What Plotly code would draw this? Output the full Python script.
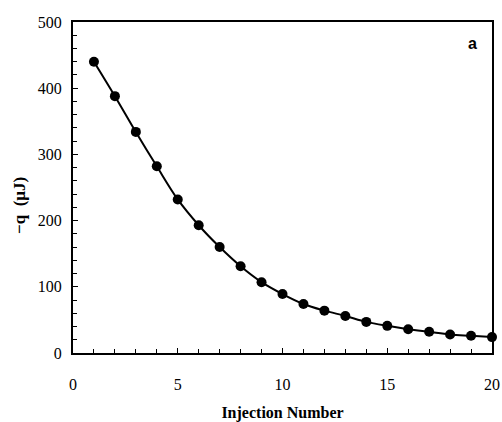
import plotly.graph_objects as go

injection = list(range(1, 21))
neg_q = [440, 388, 334, 282, 232, 193, 160, 131, 107, 89, 74, 64, 56, 47, 41, 36, 32, 28, 26, 24]
x_ticks = [0, 5, 10, 15, 20]
y_ticks = [0, 100, 200, 300, 400, 500]

fig = go.Figure()
fig.add_trace(go.Scatter(
    x=injection, y=neg_q, mode="lines+markers",
    line=dict(color="black", width=2, shape="spline"),
    marker=dict(color="black", size=10),
    cliponaxis=False, showlegend=False,
))

fig.update_layout(
    width=502, height=422,
    margin=dict(l=73, r=10, t=22, b=69),
    paper_bgcolor="white", plot_bgcolor="white",
    font=dict(family="Liberation Serif", color="black"),
    annotations=[
        dict(text="<b>a</b>", x=0.97, y=0.935, xref="paper", yref="paper",
             showarrow=False, xanchor="right", yanchor="middle",
             font=dict(family="Liberation Sans", size=16, color="black")),
        dict(text="<b>\u2212q  (\u00b5J)</b>", x=-0.129, y=0.447, xref="paper", yref="paper",
             showarrow=False, xanchor="center", yanchor="middle", textangle=-90,
             font=dict(family="Liberation Serif", size=17, color="black")),
    ],
)
fig.update_xaxes(
    range=[0, 20], tickvals=x_ticks, ticks="inside", ticklen=5, tickwidth=1,
    tickcolor="black", showline=True, linecolor="black", linewidth=2, mirror=True,
    showgrid=False, zeroline=False, ticklabelstandoff=16, automargin=False,
    tickfont=dict(size=16, family="Liberation Serif"),
    minor=dict(dtick=1, ticks="inside", ticklen=4, tickcolor="black", showgrid=False),
    title=dict(text="<b>Injection Number</b>", font=dict(size=16, family="Liberation Serif"), standoff=18),
)
fig.update_yaxes(
    range=[0, 500], tickvals=y_ticks, ticks="inside", ticklen=5, tickwidth=1,
    tickcolor="black", showline=True, linecolor="black", linewidth=2, mirror=True,
    showgrid=False, zeroline=False, ticklabelstandoff=6, automargin=False,
    tickfont=dict(size=16, family="Liberation Serif"),
    minor=dict(dtick=20, ticks="inside", ticklen=4, tickcolor="black", showgrid=False),
)

fig.write_html("out.html")
